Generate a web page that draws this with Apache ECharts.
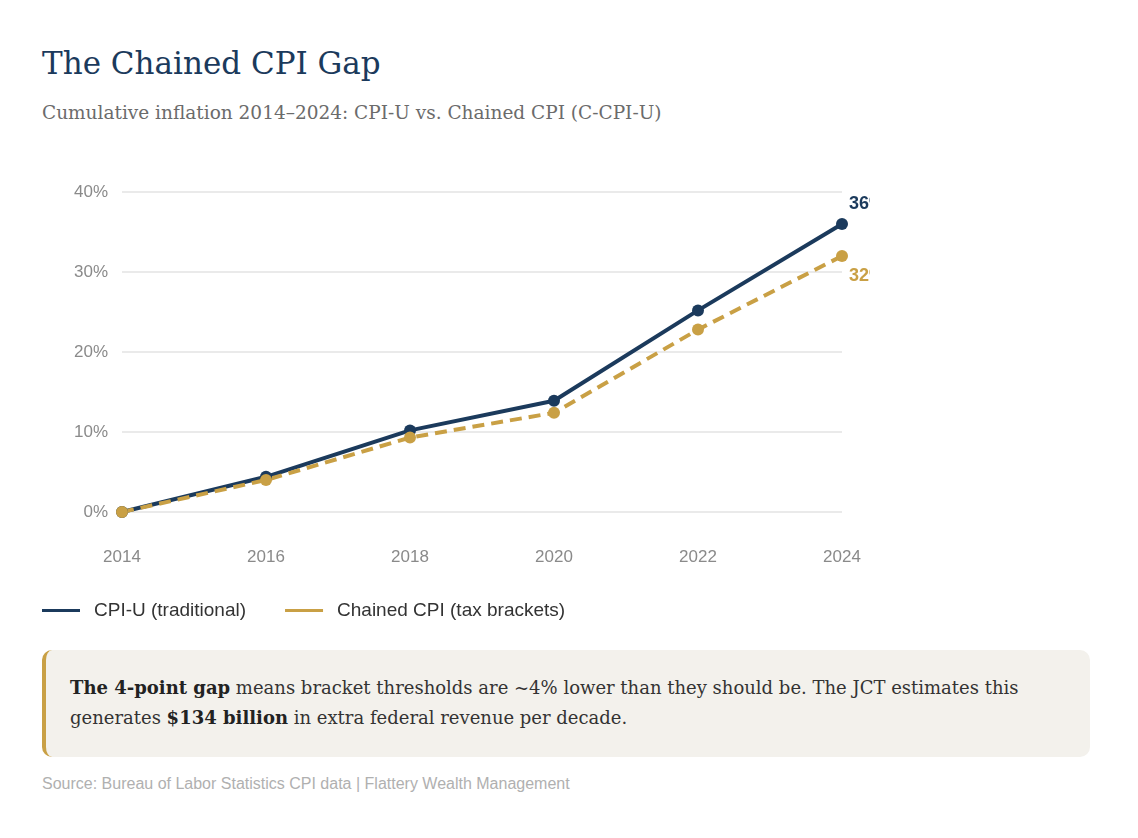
<!DOCTYPE html>
<html><head><meta charset="utf-8">
<script src="https://cdn.jsdelivr.net/npm/echarts@6/dist/echarts.min.js"></script>
<style>
html,body{margin:0;padding:0;background:#fff;width:1138px;height:838px;overflow:hidden}
#title{position:absolute;left:42px;top:45px;font-family:'DejaVu Serif',serif;font-size:31px;color:#1b3a5c;white-space:nowrap}
#sub{position:absolute;left:42px;top:102px;font-family:'DejaVu Serif',serif;font-size:18.5px;color:#6b6b6b;white-space:nowrap}
#chart{position:absolute;left:42px;top:160px;width:828px;height:470px}
#note{position:absolute;left:42px;top:650px;width:1048px;height:107px;box-sizing:border-box;background:#f3f1ec;border-left:4px solid #c9a045;border-radius:10px;padding:23px 20px 0 24px;font-family:'DejaVu Serif',serif;font-size:18px;line-height:30px;color:#333}
#note b{color:#222}
#src{position:absolute;left:42px;top:775px;font-family:'Liberation Sans',Arial,sans-serif;font-size:16px;color:#b0b0b0;white-space:nowrap}
</style></head>
<body>
<div id="title">The Chained CPI Gap</div>
<div id="sub">Cumulative inflation 2014–2024: CPI-U vs. Chained CPI (C-CPI-U)</div>
<div id="chart"></div>
<div id="note"><b>The 4-point gap</b> means bracket thresholds are ~4% lower than they should be. The JCT estimates this generates <b>$134 billion</b> in extra federal revenue per decade.</div>
<div id="src">Source: Bureau of Labor Statistics CPI data | Flattery Wealth Management</div>
<script>
const years = ['2014','2016','2018','2020','2022','2024'];
const cpiU = [0, 4.4, 10.2, 13.9, 25.2, 36];
const chained = [0, 4.0, 9.3, 12.4, 22.8, 32];
const seriesNames = ['CPI-U (traditional)', 'Chained CPI (tax brackets)'];
const yTicks = [0, 10, 20, 30, 40];

const NAVY = '#1b3a5c', GOLD = '#c9a045';
const SANS = 'Liberation Sans, Arial, sans-serif';
function withEndLabel(arr, color, dy){
  return arr.map((v,i)=> i===arr.length-1 ? {value:v, label:{show:true, position:'right', distance:5, offset:[-4,dy], formatter:'{c}%', color:color, fontWeight:'bold', fontSize:18, fontFamily:SANS}} : v);
}
const chart = echarts.init(document.getElementById('chart'), null, {renderer:'canvas'});
chart.setOption({
  animation:false,
  grid:{left:80, right:28, top:32, height:320},
  legend:{
    left:0, top:441, padding:0, icon:'rect', itemWidth:38, itemHeight:3, itemGap:39,
    textStyle:{fontFamily:SANS, fontSize:19, color:'#333', padding:[0,0,0,9]},
    data:seriesNames
  },
  xAxis:{type:'category', data:years, boundaryGap:false,
    axisLine:{show:false}, axisTick:{show:false},
    axisLabel:{margin:37, color:'#8a8a8a', fontSize:17, fontFamily:SANS}},
  yAxis:{type:'value', min:yTicks[0], max:yTicks[yTicks.length-1], interval:10,
    axisLine:{show:false}, axisTick:{show:false},
    axisLabel:{margin:14, color:'#8a8a8a', fontSize:17, fontFamily:SANS, formatter:'{value}%'},
    splitLine:{lineStyle:{color:'#e3e3e3', width:1.5}}},
  series:[
    {name:seriesNames[0], type:'line', data:withEndLabel(cpiU, NAVY, -20), symbol:'circle', symbolSize:12,
     lineStyle:{color:NAVY, width:4}, itemStyle:{color:NAVY}, label:{show:false}},
    {name:seriesNames[1], type:'line', data:withEndLabel(chained, GOLD, 20), symbol:'circle', symbolSize:12,
     lineStyle:{color:GOLD, width:4, type:[12,7]}, itemStyle:{color:GOLD}, label:{show:false}}
  ]
});
</script>
</body></html>
